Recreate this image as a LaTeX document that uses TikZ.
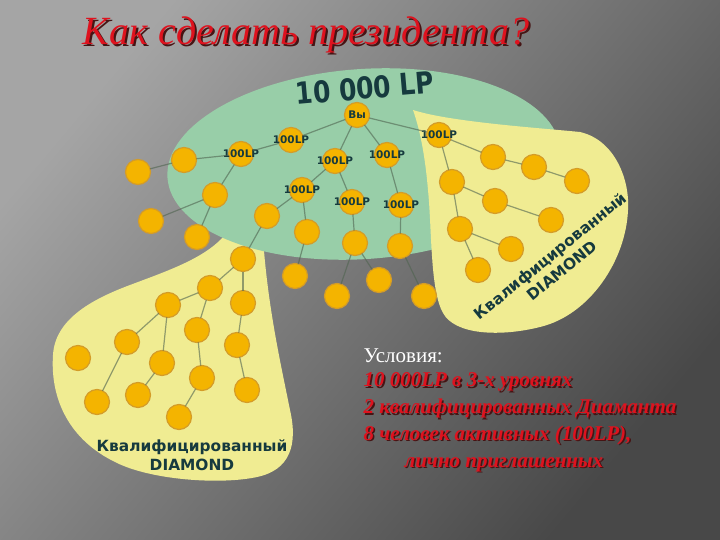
\documentclass[tikz,border=0pt]{standalone}
\usepackage{fontspec}
\setmainfont{Liberation Serif}
\newfontfamily\boldsans{DejaVu Sans}
\usepackage{tikz}
\usepackage{tkz-graph}
\usetikzlibrary{calc}

\definecolor{bgLight}{RGB}{165,165,165}
\definecolor{bgDark}{RGB}{72,72,72}
\definecolor{mint}{RGB}{152,206,168}
\definecolor{lemon}{RGB}{240,236,146}
\definecolor{gold}{RGB}{244,180,0}
\definecolor{goldrim}{RGB}{212,156,40}
\definecolor{inkteal}{RGB}{22,58,62}
\definecolor{twig}{RGB}{80,100,80}
\definecolor{titlered}{RGB}{222,18,30}
\definecolor{shadowred}{RGB}{70,20,20}

\newcommand{\lp}{\makebox[0pt]{100LP}}

\begin{document}
\begin{tikzpicture}[x=1pt,y=-1pt]
            \useasboundingbox (0,0) rectangle (720,540);
            \shade[top color=bgLight, bottom color=bgDark, shading angle=50] (0,0) rectangle (720,540);

            % leaves and the big oval
            \fill[lemon] (225,222) -- (262,222)
              .. controls (266,300) and (280,360) .. (290,410)
              .. controls (298,445) and (290,470) .. (257,477)
              .. controls (220,485) and (150,480) .. (115,462)
              .. controls (70,440) and (50,400) .. (53,355)
              .. controls (55,320) and (90,300) .. (130,285)
              .. controls (170,270) and (205,258) .. (225,235) -- cycle;
            \fill[mint, rotate around={4:(364,164)}] (364,164) ellipse [x radius=197, y radius=95];
            \fill[lemon] (413,110)
              .. controls (450,122) and (540,128) .. (580,132)
              .. controls (615,140) and (630,180) .. (628,210)
              .. controls (626,260) and (590,315) .. (540,327)
              .. controls (500,337) and (455,335) .. (443,313)
              .. controls (430,290) and (432,230) .. (428,190)
              .. controls (425,155) and (420,130) .. (413,110) -- cycle;

            \node[font=\itshape\fontsize{40}{44}\selectfont, text=shadowred] (titleshade) at (308,37) {Как сделать президента?};
            \node[font=\itshape\fontsize{40}{44}\selectfont, text=titlered] (title) at (306,35) {Как сделать президента?};
            \node[rotate=5, font=\boldsans\bfseries\fontsize{25}{28}\selectfont, text=inkteal] (total) at (365,88) {\scalebox{1}[1.2]{10 000 LP}};

            \GraphInit[vstyle=Normal];
            \SetVertexNormal[Shape=circle,MinSize=25pt,FillColor=gold,LineColor=goldrim,LineWidth=1.2pt]
            \tikzset{VertexStyle/.append style={inner sep=0pt, text=inkteal,
                font=\boldsans\bfseries\fontsize{10.5}{11}\selectfont}};
            \tikzset{EdgeStyle/.style={draw=twig, draw opacity=0.6, line width=1.2pt}};

            % top tree
            \Vertex[x=357,y=115,L={\makebox[0pt]{Вы}}]{you};
            \Vertex[x=291,y=140,L=\lp]{a1};
            \Vertex[x=241,y=154,L=\lp]{a2};
            \Vertex[x=335,y=161,L=\lp]{a3};
            \Vertex[x=387,y=155,L=\lp]{a4};
            \Vertex[x=439,y=135,L=\lp]{a5};
            \Vertex[x=302,y=190,L=\lp]{a6};
            \Vertex[x=352,y=202,L=\lp]{a7};
            \Vertex[x=401,y=205,L=\lp]{a8};
            \Vertex[NoLabel,x=184,y=160]{b1};
            \Vertex[NoLabel,x=138,y=172]{b2};
            \Vertex[NoLabel,x=215,y=195]{b3};
            \Vertex[NoLabel,x=151,y=221]{b4};
            \Vertex[NoLabel,x=197,y=237]{b5};
            \Vertex[NoLabel,x=267,y=216]{b6};
            \Vertex[NoLabel,x=307,y=232]{b7};
            \Vertex[NoLabel,x=355,y=243]{b8};
            \Vertex[NoLabel,x=400,y=246]{b9};
            \Vertex[NoLabel,x=295,y=276]{b10};
            \Vertex[NoLabel,x=337,y=296]{b11};
            \Vertex[NoLabel,x=379,y=280]{b12};
            \Vertex[NoLabel,x=424,y=296]{b13};
            \Vertex[NoLabel,x=243,y=259]{b14};

            % right diamond
            \Vertex[NoLabel,x=493,y=157]{c1};
            \Vertex[NoLabel,x=534,y=167]{c2};
            \Vertex[NoLabel,x=577,y=181]{c3};
            \Vertex[NoLabel,x=452,y=182]{c4};
            \Vertex[NoLabel,x=495,y=201]{c5};
            \Vertex[NoLabel,x=551,y=220]{c6};
            \Vertex[NoLabel,x=460,y=229]{c7};
            \Vertex[NoLabel,x=511,y=249]{c8};
            \Vertex[NoLabel,x=478,y=270]{c9};

            % left diamond
            \Vertex[NoLabel,x=210,y=288]{d1};
            \Vertex[NoLabel,x=243,y=303]{d2};
            \Vertex[NoLabel,x=168,y=305]{d3};
            \Vertex[NoLabel,x=197,y=330]{d4};
            \Vertex[NoLabel,x=237,y=345]{d5};
            \Vertex[NoLabel,x=127,y=342]{d6};
            \Vertex[NoLabel,x=78,y=358]{d7};
            \Vertex[NoLabel,x=162,y=363]{d8};
            \Vertex[NoLabel,x=202,y=378]{d9};
            \Vertex[NoLabel,x=247,y=390]{d10};
            \Vertex[NoLabel,x=97,y=402]{d11};
            \Vertex[NoLabel,x=138,y=395]{d12};
            \Vertex[NoLabel,x=179,y=417]{d13};

            \Edge(you)(a1); \Edge(you)(a3); \Edge(you)(a4); \Edge(you)(a5);
            \Edge(a1)(a2); \Edge(a2)(b1); \Edge(b1)(b2);
            \Edge(a2)(b3); \Edge(b3)(b4); \Edge(b3)(b5);
            \Edge(a3)(a6); \Edge(a6)(b6); \Edge(a6)(b7); \Edge(b6)(b14); \Edge(b7)(b10);
            \Edge(a3)(a7); \Edge(a7)(b8); \Edge(b8)(b11); \Edge(b8)(b12);
            \Edge(a4)(a8); \Edge(a8)(b9); \Edge(b9)(b13);

            \Edge(a5)(c1); \Edge(c1)(c2); \Edge(c2)(c3);
            \Edge(a5)(c4); \Edge(c4)(c5); \Edge(c5)(c6);
            \Edge(c4)(c7); \Edge(c7)(c8); \Edge(c7)(c9);

            \Edge(b14)(d1); \Edge(b14)(d2); \Edge(d1)(d3); \Edge(d1)(d4); \Edge(d2)(d5);
            \Edge(d3)(d6); \Edge(d3)(d8); \Edge(d4)(d9); \Edge(d5)(d10);
            \Edge(d6)(d11); \Edge(d8)(d12); \Edge(d9)(d13);

            \node[align=center, text=inkteal, font=\boldsans\bfseries\fontsize{15.4}{18.5}\selectfont] (leftlabel) at (192,455) {Квалифицированный\\DIAMOND};
            \node[rotate=39, align=center, text=inkteal, font=\boldsans\bfseries\fontsize{15.4}{18.5}\selectfont] (rightlabel) at (556,263) {Квалифицированный\\DIAMOND};

            \node[anchor=base west, text=white, font=\fontsize{21}{24}\selectfont] (terms) at (360,362) {Условия:};
            \node[anchor=base west, align=left, text=shadowred, font=\bfseries\itshape\fontsize{21}{26.7}\selectfont] (termshade) at (361.5,468.5)
              {10 000LP в 3-х уровнях\\2 квалифицированных Диаманта\\8 человек активных (100LP),\\\hspace*{41pt}лично приглашенных};
            \node[anchor=base west, align=left, text=titlered, font=\bfseries\itshape\fontsize{21}{26.7}\selectfont] (termlist) at (360,467)
              {10 000LP в 3-х уровнях\\2 квалифицированных Диаманта\\8 человек активных (100LP),\\\hspace*{41pt}лично приглашенных};
          \end{tikzpicture}
\end{document}
